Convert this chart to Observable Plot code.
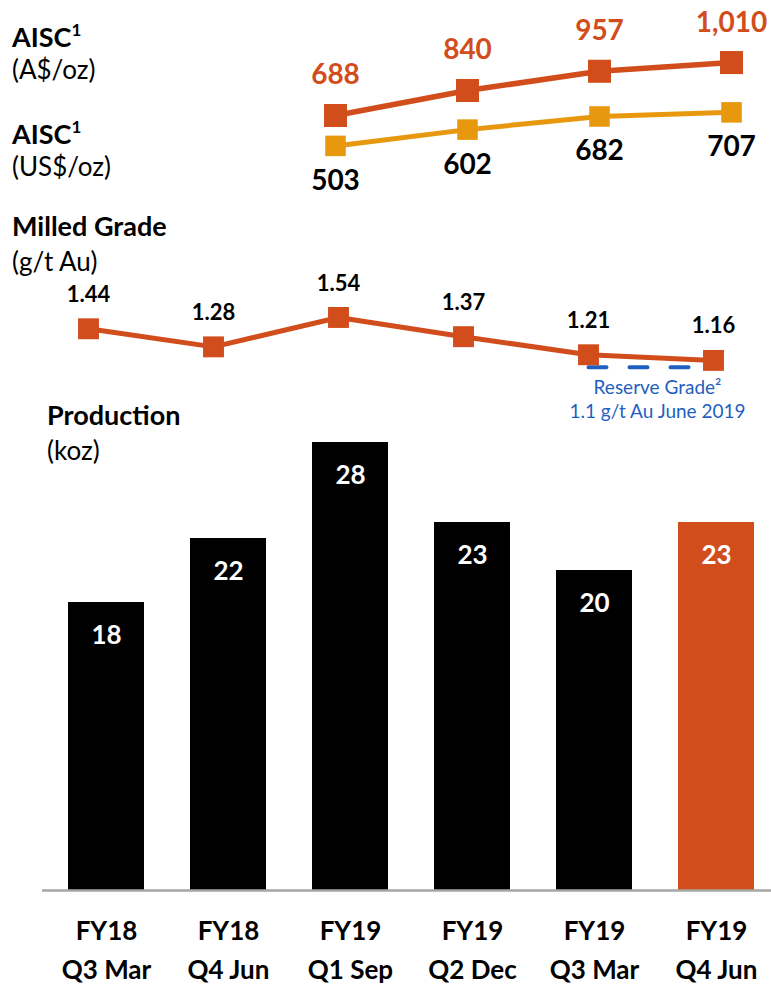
<!DOCTYPE html>
<html>
<head>
<meta charset="utf-8">
<script src="https://cdn.jsdelivr.net/npm/d3@7"></script>
<script src="https://cdn.jsdelivr.net/npm/@observablehq/plot@0.6"></script>
<style>
  body { margin: 0; background: #fff; }
  #chart { position: relative; width: 771px; height: 984px; font-family: Lato, "Open Sans", sans-serif; overflow: hidden; }
  #chart svg { position: absolute; left: 0; overflow: visible; font-family: Lato, "Open Sans", sans-serif; }
  .lbl { position: absolute; white-space: nowrap; line-height: 1; color: #000; }
  .t { font-weight: 700; font-size: 27px; }
  .u { font-weight: 400; font-size: 26px; }
</style>
</head>
<body>
<div id="chart"></div>
<script>
// Quarterly operating summary: AISC, milled grade and gold production
const quarters = ["FY18\nQ3 Mar", "FY18\nQ4 Jun", "FY19\nQ1 Sep", "FY19\nQ2 Dec", "FY19\nQ3 Mar", "FY19\nQ4 Jun"];
const production = [18, 22, 28, 23, 20, 23];            // koz
const milledGrade = [1.44, 1.28, 1.54, 1.37, 1.21, 1.16]; // g/t Au
const aiscQuarters = quarters.slice(2);
const aiscAUD = [688, 840, 957, 1010];                   // A$/oz
const aiscUSD = [503, 602, 682, 707];                    // US$/oz
const reserveGrade = 1.1;                                // g/t Au, June 2019
const currentQuarter = quarters[quarters.length - 1];

const ORANGE = "#d24d1c";
const GOLD = "#e8980f";
const BLUE = "#1f5fc0";

const chart = document.getElementById("chart");
const fmt = d3.format(",");

// Panel titles on the left
const titles = [
  {html: "AISC<sup style='font-size:17px;vertical-align:11px'>1</sup>", cls: "t", left: 12, top: 21},
  {html: "(A$/oz)", cls: "u", left: 12, top: 56},
  {html: "AISC<sup style='font-size:17px;vertical-align:11px'>1</sup>", cls: "t", left: 12, top: 118},
  {html: "(US$/oz)", cls: "u", left: 12, top: 153},
  {html: "Milled Grade", cls: "t", left: 12, top: 212},
  {html: "(g/t Au)", cls: "u", left: 12, top: 248},
  {html: "Production", cls: "t", left: 47, top: 401},
  {html: "(koz)", cls: "u", left: 47, top: 437}
];
for (const t of titles) {
  const el = document.createElement("div");
  el.className = "lbl " + t.cls;
  el.style.left = t.left + "px";
  el.style.top = t.top + "px";
  el.innerHTML = t.html;
  chart.appendChild(el);
}

function place(svg, top) {
  svg.style.top = top + "px";
  chart.appendChild(svg);
}

// AISC panel
const aiscRows = aiscQuarters.map((q, i) => ({q, aud: aiscAUD[i], usd: aiscUSD[i]}));
place(Plot.plot({
  width: 771, height: 200, margin: 0,
  x: {type: "point", domain: aiscQuarters, range: [334, 731], padding: 0, axis: null},
  y: {domain: [500, 1000], range: [145.9, 63.7], axis: null},
  marks: [
    Plot.line(aiscRows, {x: "q", y: "usd", stroke: GOLD, strokeWidth: 5}),
    Plot.line(aiscRows, {x: "q", y: "aud", stroke: ORANGE, strokeWidth: 5.5}),
    Plot.dot(aiscRows, {x: "q", y: "usd", symbol: "square", r: 11.6, fill: GOLD}),
    Plot.dot(aiscRows, {x: "q", y: "aud", symbol: "square", r: 13, fill: ORANGE}),
    Plot.text(aiscRows, {x: "q", y: "aud", text: d => fmt(d.aud), dy: -40, fill: ORANGE, fontSize: 28, fontWeight: 700}),
    Plot.text(aiscRows, {x: "q", y: "usd", text: d => fmt(d.usd), dy: 35, fill: "#000", fontSize: 28, fontWeight: 700})
  ]
}), 0);

// Milled grade panel
const gradeRows = quarters.map((q, i) => ({q, v: milledGrade[i]}));
const reserveRows = [quarters[4], quarters[5]].map(q => ({q, v: reserveGrade}));
place(Plot.plot({
  width: 771, height: 230, margin: 0,
  x: {type: "point", domain: quarters, range: [87, 714], padding: 0, axis: null},
  y: {domain: [1.1, 1.6], range: [166.7, 110.2], axis: null},
  marks: [
    Plot.line(reserveRows, {x: "q", y: "v", stroke: BLUE, strokeWidth: 4, strokeDasharray: "18 23", strokeLinecap: "round"}),
    Plot.text([reserveRows[1]], {
      x: "q", y: "v", text: () => "Reserve Grade²\n1.1 g/t Au June 2019",
      dx: -56, dy: 9, lineAnchor: "top", lineHeight: 1.3, fontSize: 19, fill: BLUE, textAnchor: "middle"
    }),
    Plot.line(gradeRows, {x: "q", y: "v", stroke: ORANGE, strokeWidth: 5}),
    Plot.dot(gradeRows, {x: "q", y: "v", symbol: "square", r: 11.8, fill: ORANGE}),
    Plot.text(gradeRows, {x: "q", y: "v", text: d => d.v.toFixed(2), dy: -34, fill: "#000", fontSize: 22, fontWeight: 700})
  ]
}), 200);

// Production panel
const prodRows = quarters.map((q, i) => ({q, v: production[i]}));
place(Plot.plot({
  width: 771, height: 554, marginLeft: 42, marginRight: 0, marginTop: 0, marginBottom: 94,
  x: {domain: quarters, range: [42.2, 779], paddingInner: 0.38, paddingOuter: 0.19},
  y: {domain: [0, 28], range: [460, 12], axis: null},
  marks: [
    Plot.barY(prodRows.filter(d => d.q !== currentQuarter), {x: "q", y: "v", fill: "#000"}),
    Plot.barY(prodRows.filter(d => d.q === currentQuarter), {x: "q", y: "v", fill: ORANGE}),
    Plot.ruleY([0], {stroke: "#a6a6a6", strokeWidth: 2.5}),
    Plot.text(prodRows, {x: "q", y: "v", text: d => String(d.v), dy: 33, fill: "#fff", fontSize: 26, fontWeight: 700}),
    Plot.axisX({tickSize: 0, tickPadding: 22, fontSize: 26, fontWeight: 700, lineHeight: 1.5, fill: "#000", label: null})
  ]
}), 430);
</script>
</body>
</html>
